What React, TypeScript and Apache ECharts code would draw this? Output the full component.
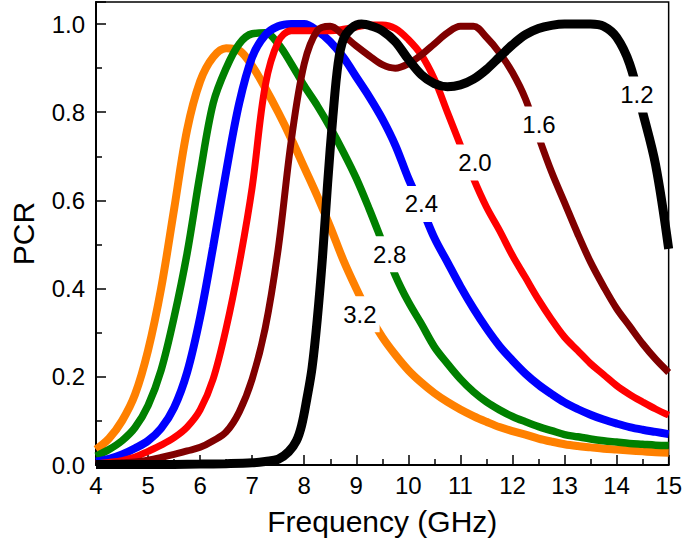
import React, { useEffect, useRef } from "react";
import * as echarts from "echarts";

// Shared frequency grid (GHz)
const freq = [4, 4.25, 4.5, 4.75, 5, 5.25, 5.5, 5.75, 6, 6.25, 6.5, 6.75, 7, 7.25, 7.5, 7.75, 8, 8.25, 8.5, 8.75, 9, 9.25, 9.5, 9.75, 10, 10.25, 10.5, 10.75, 11, 11.25, 11.5, 11.75, 12, 12.25, 12.5, 12.75, 13, 13.25, 13.5, 13.75, 14, 14.25, 14.5, 14.75, 15];

const pcr32 = [0.035, 0.06, 0.1, 0.16, 0.26, 0.4, 0.58, 0.76, 0.87, 0.925, 0.945, 0.94, 0.905, 0.855, 0.8, 0.74, 0.675, 0.61, 0.54, 0.465, 0.4, 0.34, 0.29, 0.25, 0.215, 0.187, 0.163, 0.143, 0.126, 0.111, 0.098, 0.086, 0.077, 0.069, 0.06, 0.053, 0.047, 0.043, 0.04, 0.037, 0.035, 0.033, 0.031, 0.029, 0.028];
const pcr28 = [0.02, 0.035, 0.055, 0.085, 0.135, 0.215, 0.335, 0.48, 0.66, 0.82, 0.9, 0.955, 0.978, 0.98, 0.955, 0.91, 0.86, 0.815, 0.765, 0.71, 0.65, 0.58, 0.505, 0.43, 0.37, 0.32, 0.268, 0.23, 0.195, 0.166, 0.143, 0.125, 0.11, 0.098, 0.087, 0.078, 0.069, 0.064, 0.059, 0.055, 0.052, 0.049, 0.047, 0.045, 0.044];
const pcr24 = [0.008, 0.014, 0.024, 0.038, 0.055, 0.083, 0.13, 0.21, 0.335, 0.495, 0.665, 0.82, 0.925, 0.975, 0.995, 1.0, 1.0, 0.985, 0.96, 0.925, 0.88, 0.835, 0.785, 0.725, 0.65, 0.585, 0.515, 0.46, 0.405, 0.355, 0.31, 0.27, 0.237, 0.207, 0.182, 0.161, 0.142, 0.127, 0.114, 0.103, 0.094, 0.086, 0.08, 0.075, 0.07];
const pcr20 = [0.003, 0.006, 0.01, 0.018, 0.031, 0.045, 0.062, 0.086, 0.125, 0.195, 0.31, 0.455, 0.63, 0.86, 0.96, 0.985, 0.985, 0.985, 0.985, 0.988, 0.993, 0.998, 0.998, 0.99, 0.965, 0.93, 0.875, 0.8, 0.725, 0.65, 0.585, 0.532, 0.475, 0.425, 0.375, 0.33, 0.29, 0.26, 0.23, 0.205, 0.18, 0.16, 0.143, 0.127, 0.113];
const pcr16 = [0.002, 0.003, 0.005, 0.007, 0.011, 0.017, 0.024, 0.032, 0.04, 0.055, 0.075, 0.12, 0.195, 0.31, 0.49, 0.735, 0.91, 0.985, 0.995, 0.975, 0.95, 0.928, 0.908, 0.9, 0.91, 0.93, 0.955, 0.98, 0.995, 0.995, 0.97, 0.935, 0.89, 0.83, 0.745, 0.665, 0.595, 0.525, 0.46, 0.405, 0.355, 0.315, 0.275, 0.24, 0.21];

// Black curve (1.2) has its own, finer grid around the steep edge
const freq12 = [4, 5, 6, 6.5, 7, 7.25, 7.5, 7.7, 7.85, 7.95, 8.05, 8.15, 8.25, 8.35, 8.45, 8.55, 8.65, 8.75, 8.9, 9.1, 9.3, 9.5, 9.75, 10, 10.25, 10.5, 10.75, 11, 11.25, 11.5, 11.75, 12, 12.25, 12.5, 12.75, 13, 13.25, 13.5, 13.75, 14, 14.25, 14.5, 14.75, 15];
const pcr12 = [0.001, 0.001, 0.002, 0.003, 0.005, 0.008, 0.013, 0.03, 0.055, 0.09, 0.15, 0.22, 0.33, 0.47, 0.64, 0.79, 0.91, 0.965, 0.99, 1.0, 0.995, 0.985, 0.96, 0.92, 0.885, 0.865, 0.858, 0.862, 0.875, 0.897, 0.925, 0.953, 0.976, 0.99, 0.997, 1.0, 1.0, 1.0, 0.995, 0.97, 0.91, 0.8, 0.68, 0.49];

// Curve labels and their anchor points (data units)
const labelText = ["3.2", "2.8", "2.4", "2.0", "1.6", "1.2"];
const labelFreq = [9.07, 9.64, 10.25, 11.28, 12.51, 14.39];
const labelPcr = [0.342, 0.478, 0.592, 0.686, 0.772, 0.84];

const xTicks = [4, 5, 6, 7, 8, 9, 10, 11, 12, 13, 14, 15];

const FONT = "'Liberation Sans', Arial, sans-serif";

export default function App() {
  const ref = useRef<HTMLDivElement>(null);

  useEffect(() => {
    document.body.style.margin = "0";
    if (!ref.current) return;
    const chart = echarts.init(ref.current, null, { renderer: "svg" });

    const defs = [
      { xs: freq, ys: pcr32, color: "#ff8000", width: 8 },
      { xs: freq, ys: pcr28, color: "#008000", width: 7.5 },
      { xs: freq, ys: pcr24, color: "#0000ff", width: 8 },
      { xs: freq, ys: pcr20, color: "#ff0000", width: 7 },
      { xs: freq, ys: pcr16, color: "#800000", width: 7 },
      { xs: freq12, ys: pcr12, color: "#000000", width: 9 },
    ];

    const series = defs.map((d, i) => ({
      type: "line",
      name: labelText[i],
      data: d.xs.map((f, j) => [f, d.ys[j]]),
      smooth: 0.35,
      showSymbol: false,
      symbol: "none",
      lineStyle: { color: d.color, width: d.width },
      z: 2 + i,
      markPoint: {
        z: 20,
        symbol: "rect",
        symbolSize: [1, 1],
        itemStyle: { color: "rgba(0,0,0,0)" },
        data: [
          {
            coord: [labelFreq[i], labelPcr[i]],
            label: {
              show: true,
              position: "inside",
              formatter: labelText[i],
              color: "#000",
              fontSize: 24,
              fontFamily: FONT,
              backgroundColor: "#fff",
              padding: [6, 3, 6, 3],
            },
          },
        ],
      },
    }));

    chart.setOption({
      animation: false,
      grid: {
        left: 93,
        right: 15,
        top: 2,
        bottom: 83,
        show: true,
        borderColor: "#000",
        borderWidth: 1.5,
      },
      xAxis: {
        type: "value",
        min: 4,
        max: 15,
        interval: 1,
        name: "Frequency (GHz)",
        nameLocation: "middle",
        nameGap: 41,
        nameTextStyle: { fontSize: 30, fontFamily: FONT, color: "#000" },
        axisLine: { show: true, onZero: false, lineStyle: { color: "#000", width: 2 } },
        axisTick: { show: true, inside: true, length: 10, lineStyle: { color: "#000", width: 1.5 } },
        minorTick: { show: true, splitNumber: 2, length: 6, lineStyle: { color: "#000", width: 1.5 } },
        splitLine: { show: false },
        axisLabel: {
          fontSize: 24,
          fontFamily: FONT,
          color: "#000",
          margin: 8,
          formatter: (v: number) => (xTicks.includes(v) ? String(v) : ""),
        },
      },
      yAxis: {
        type: "value",
        min: 0,
        max: 1.05,
        interval: 0.2,
        name: "PCR",
        nameLocation: "middle",
        nameGap: 58,
        nameRotate: 90,
        nameTextStyle: { fontSize: 30, fontFamily: FONT, color: "#000" },
        axisLine: { show: true, onZero: false, lineStyle: { color: "#000", width: 2 } },
        axisTick: { show: true, inside: true, length: 10, lineStyle: { color: "#000", width: 1.5 } },
        minorTick: { show: true, splitNumber: 2, length: 6, lineStyle: { color: "#000", width: 1.5 } },
        splitLine: { show: false },
        axisLabel: {
          fontSize: 24,
          fontFamily: FONT,
          color: "#000",
          margin: 11,
          formatter: (v: number) =>
            Math.abs(v * 5 - Math.round(v * 5)) < 1e-6 ? v.toFixed(1) : "",
        },
      },
      series,
    });

    return () => chart.dispose();
  }, []);

  return <div ref={ref} style={{ width: 685, height: 548 }} />;
}
